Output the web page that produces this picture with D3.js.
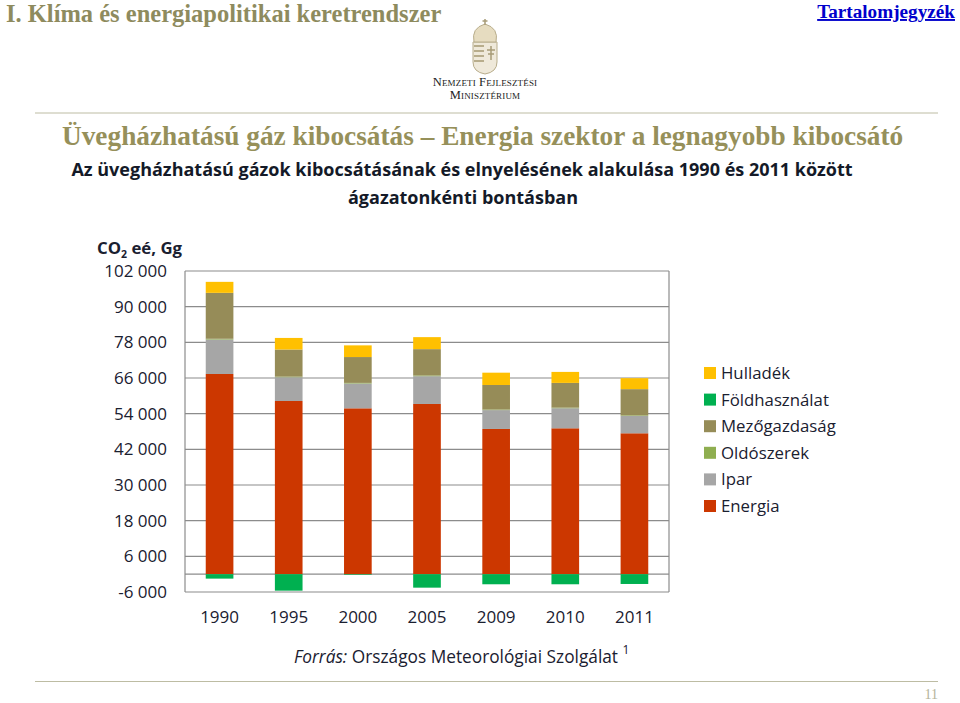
<!DOCTYPE html>
<html>
<head>
<meta charset="utf-8">
<script src="https://d3js.org/d3.v7.min.js"></script>
<style>
html, body { margin: 0; padding: 0; background: #fff; }
svg { display: block; }
.serif { font-family: "Liberation Serif", serif; }
.sans { font-family: "Open Sans", "DejaVu Sans", sans-serif; }
</style>
</head>
<body>
<svg id="chart" width="960" height="703"></svg>
<script>
var years = ['1990', '1995', '2000', '2005', '2009', '2010', '2011'];
var tickValues = [-6000, 0, 6000, 18000, 30000, 42000, 54000, 66000, 78000, 90000, 102000];
var labelledTicks = [-6000, 6000, 18000, 30000, 42000, 54000, 66000, 78000, 90000, 102000];

// Gg
var energia = [67350, 58260, 55800, 57260, 48850, 49080, 47400];
var ipar = [11600, 8000, 8350, 9350, 6350, 6750, 5850];
var oldoszerek = [250, 200, 200, 250, 200, 200, 200];
var mezogazdasag = [15450, 9120, 8700, 8850, 8250, 8320, 8800];
var hulladek = [3700, 3900, 3930, 4040, 4140, 3700, 3700];
var foldhasznalat = [-1500, -5550, -200, -4540, -3400, -3400, -3300];

var seriesNames = ['Energia', 'Ipar', 'Oldószerek', 'Mezőgazdaság', 'Hulladék'];
var seriesValues = [energia, ipar, oldoszerek, mezogazdasag, hulladek];
var seriesColors = ['#cc3700', '#a6a6a6', '#8fae50', '#968c58', '#ffc000'];
var legendNames = ['Hulladék', 'Földhasználat', 'Mezőgazdaság', 'Oldószerek', 'Ipar', 'Energia'];
var legendColors = ['#ffc000', '#00b050', '#968c58', '#8fae50', '#a6a6a6', '#cc3700'];

var svg = d3.select('#chart');

//header
svg.append('text').attr('class', 'serif').attr('x', 6).attr('y', 22)
	.attr('font-size', 24.5).attr('font-weight', 'bold').attr('fill', '#8e8b5e')
	.text('I. Klíma és energiapolitikai keretrendszer');
svg.append('text').attr('class', 'serif').attr('x', 955).attr('y', 18)
	.attr('text-anchor', 'end').attr('font-size', 19.2).attr('font-weight', 'bold')
	.attr('fill', '#0000cc').attr('text-decoration', 'underline').text('Tartalomjegyzék');

//ministry crest, rough
var crest = svg.append('g').attr('transform', 'translate(485,0)');
crest.append('path').attr('d', 'M-12,42 L-12,62 Q-12,72 0,74 Q12,72 12,62 L12,42 Z')
	.attr('fill', '#efe9da').attr('stroke', '#b8ad8c').attr('stroke-width', 1);
crest.append('path').attr('d', 'M-11,42 Q-14,28 0,24 Q14,28 11,42 Z')
	.attr('fill', '#e6dcc0').attr('stroke', '#b8ad8c').attr('stroke-width', 1);
crest.append('path').attr('d', 'M0,19 L0,25 M-2.5,21 L2.5,21').attr('stroke', '#a89c78').attr('stroke-width', 1.5);
crest.append('path').attr('d', 'M6,46 L6,60 M2,50 L10,50 M3,54 L9,54').attr('stroke', '#a89c78').attr('stroke-width', 1.5);
[46, 51, 56, 61].forEach(function(y) {
	crest.append('line').attr('x1', -11).attr('x2', -1).attr('y1', y).attr('y2', y)
		.attr('stroke', '#b8ad8c').attr('stroke-width', 2);
});
svg.append('text').attr('class', 'serif').attr('x', 485).attr('y', 86).attr('text-anchor', 'middle')
	.attr('font-size', 12.5).attr('letter-spacing', 0.15).attr('font-variant', 'small-caps').attr('fill', '#222').text('Nemzeti Fejlesztési');
svg.append('text').attr('class', 'serif').attr('x', 485).attr('y', 99).attr('text-anchor', 'middle')
	.attr('font-size', 12.5).attr('letter-spacing', 0.15).attr('font-variant', 'small-caps').attr('fill', '#222').text('Minisztérium');

svg.append('line').attr('x1', 35).attr('x2', 938).attr('y1', 113).attr('y2', 113).attr('stroke', '#bdbca3');
svg.append('line').attr('x1', 35).attr('x2', 938).attr('y1', 681.5).attr('y2', 681.5).attr('stroke', '#bdbca3');

svg.append('text').attr('class', 'serif').attr('x', 62).attr('y', 145)
	.attr('font-size', 27.3).attr('font-weight', 'bold').attr('fill', '#96905a')
	.text('Üvegházhatású gáz kibocsátás – Energia szektor a legnagyobb kibocsátó');

svg.append('text').attr('class', 'sans').attr('x', 462).attr('y', 176).attr('text-anchor', 'middle')
	.attr('font-size', 18).attr('font-weight', 'bold').attr('fill', '#141a28')
	.text('Az üvegházhatású gázok kibocsátásának és elnyelésének alakulása 1990 és 2011 között');
svg.append('text').attr('class', 'sans').attr('x', 463).attr('y', 204).attr('text-anchor', 'middle')
	.attr('font-size', 18).attr('font-weight', 'bold').attr('fill', '#141a28')
	.text('ágazatonkénti bontásban');

//chart
var x = d3.scaleBand().domain(years).range([185, 669]).paddingInner(0.6).paddingOuter(0.3);
var y = d3.scaleLinear().domain([-6000, 102000]).range([592, 271]);

var gridColor = '#8c8c8c';
var grid = svg.append('g');
grid.selectAll('line').data(tickValues).enter().append('line')
	.attr('x1', 185).attr('x2', 669)
	.attr('y1', function(d) { return y(d); }).attr('y2', function(d) { return y(d); })
	.attr('stroke', gridColor).attr('stroke-width', 1.2);
grid.append('line').attr('x1', 185).attr('x2', 185).attr('y1', 271).attr('y2', 592).attr('stroke', gridColor).attr('stroke-width', 1.2);
grid.append('line').attr('x1', 669).attr('x2', 669).attr('y1', 271).attr('y2', 592).attr('stroke', gridColor).attr('stroke-width', 1.2);

//stack the positive series, land use goes below zero
var rows = years.map(function(year, i) {
	var row = {year: year};
	seriesNames.forEach(function(name, s) { row[name] = seriesValues[s][i]; });
	return row;
});
var stacked = d3.stack().keys(seriesNames)(rows);
svg.append('g').selectAll('g').data(stacked).enter().append('g')
	.attr('fill', function(d, i) { return seriesColors[i]; })
	.selectAll('rect').data(function(d) { return d; }).enter().append('rect')
	.attr('x', function(d) { return x(d.data.year); })
	.attr('width', x.bandwidth())
	.attr('y', function(d) { return y(d[1]); })
	.attr('height', function(d) { return y(d[0]) - y(d[1]); });
svg.append('g').attr('fill', '#00b050').selectAll('rect').data(foldhasznalat).enter().append('rect')
	.attr('x', function(d, i) { return x(years[i]); })
	.attr('width', x.bandwidth())
	.attr('y', y(0))
	.attr('height', function(d) { return y(d) - y(0); });

//axes
var axisColor = '#1a2030';
var formatTick = function(d) { return d3.format(',')(d).replace(/,/g, ' ').replace('−', '-'); };
svg.append('g').selectAll('text').data(labelledTicks).enter().append('text')
	.attr('class', 'sans').attr('x', 167).attr('y', function(d) { return y(d); })
	.attr('dy', '0.36em').attr('text-anchor', 'end').attr('font-size', 17).attr('fill', axisColor)
	.text(formatTick);
svg.append('g').selectAll('text').data(years).enter().append('text')
	.attr('class', 'sans').attr('x', function(d) { return x(d) + x.bandwidth() / 2; }).attr('y', 623)
	.attr('text-anchor', 'middle').attr('font-size', 17).attr('fill', axisColor)
	.text(function(d) { return d; });

var unit = svg.append('text').attr('class', 'sans').attr('x', 97).attr('y', 254)
	.attr('font-size', 16.8).attr('font-weight', 'bold').attr('fill', axisColor);
unit.append('tspan').text('CO');
unit.append('tspan').attr('dy', 4).attr('font-size', 10.5).text('2');
unit.append('tspan').attr('dy', -4).text(' eé, Gg');

//legend
var legend = svg.append('g').selectAll('g').data(legendNames).enter().append('g')
	.attr('transform', function(d, i) { return 'translate(704,' + (367 + i * 26.6) + ')'; });
legend.append('rect').attr('width', 12).attr('height', 12)
	.attr('fill', function(d, i) { return legendColors[i]; });
legend.append('text').attr('class', 'sans').attr('x', 17).attr('y', 6).attr('dy', '0.36em')
	.attr('font-size', 16.8).attr('fill', axisColor).text(function(d) { return d; });

//source
var source = svg.append('text').attr('class', 'sans').attr('x', 294).attr('y', 663)
	.attr('font-size', 17.3).attr('fill', axisColor);
source.append('tspan').attr('font-style', 'italic').text('Forrás:');
source.append('tspan').text(' Országos Meteorológiai Szolgálat ');
source.append('tspan').attr('dy', -9).attr('font-size', 12).text('1');

//page number
svg.append('text').attr('class', 'serif').attr('x', 938).attr('y', 699).attr('text-anchor', 'end')
	.attr('font-size', 14).attr('fill', '#b4b39a').text('11');
</script>
</body>
</html>
